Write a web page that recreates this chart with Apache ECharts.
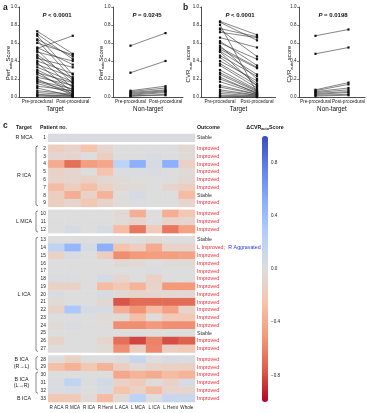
<!DOCTYPE html>
<html><head><meta charset="utf-8">
<script src="https://cdn.jsdelivr.net/npm/echarts@6/dist/echarts.min.js"></script>
<style>html,body{margin:0;padding:0;background:#fff}#c{width:367px;height:413px}</style>
</head><body><div id="c"></div>
<script>
const FONT = 'Liberation Sans, Arial, sans-serif';
const phases = ['Pre-procedural', 'Post-procedural'];

// Panel a: Perf_auto score
const perfTargetPre  = [0.73,0.70,0.68,0.64,0.63,0.60,0.55,0.54,0.52,0.50,0.47,0.45,0.43,0.40,0.38,0.36,0.33,0.30,0.28,0.27,0.25,0.22,0.20,0.18,0.17,0.15,0.12,0.10,0.07,0.05,0.03,0.02,0.01];
const perfTargetPost = [0.48,0.42,0.25,0.45,0.20,0.47,0.36,0.68,0.15,0.40,0.19,0.10,0.33,0.26,0.05,0.22,0.17,0.12,0.03,0.16,0.08,0.13,0.02,0.09,0.06,0.04,0.07,0.01,0.03,0.02,0.01,0.01,0.00];
const perfNonPre  = [0.57,0.27,0.07,0.06,0.05,0.04,0.03,0.02,0.01,0.01];
const perfNonPost = [0.71,0.40,0.12,0.10,0.08,0.07,0.06,0.05,0.03,0.02];

// Panel b: CVR_auto score
const cvrTargetPre  = [0.84,0.83,0.80,0.76,0.75,0.72,0.66,0.62,0.60,0.57,0.55,0.53,0.51,0.50,0.46,0.44,0.40,0.37,0.35,0.30,0.27,0.25,0.22,0.20,0.17,0.13,0.11,0.08,0.06,0.04,0.02,0.01,0.00];
const cvrTargetPost = [0.69,0.63,0.05,0.67,0.45,0.66,0.55,0.35,0.42,0.20,0.33,0.32,0.25,0.12,0.23,0.15,0.18,0.13,0.10,0.08,0.07,0.06,0.04,0.05,0.04,0.03,0.03,0.02,0.02,0.01,0.01,0.00,0.00];
const cvrNonPre  = [0.68,0.48,0.08,0.07,0.06,0.05,0.04,0.03,0.02,0.01];
const cvrNonPost = [0.75,0.55,0.16,0.14,0.10,0.08,0.06,0.05,0.03,0.02];

const yTicks = [0, 0.2, 0.4, 0.6, 0.8, 1.0];

// Panel c: heatmap
const regions = ['R ACA','R MCA','R ICA','R Hemi','L ACA','L MCA','L ICA','L Hemi','Whole'];
const patients = Array.from({length: 33}, (_, i) => String(i + 1));
const outcomes = ['Stable','Improved','Improved','Improved','Improved','Improved','Improved','Stable','Improved',
  'Improved','Improved','Improved',
  'Stable','L Improved; R Aggravated','Improved','Improved','Improved','Improved','Improved','Improved','Improved','Improved','Improved','Improved','Stable','Improved','Improved',
  'Improved','Improved','Improved','Improved','Improved','Improved'];
const groupNames = ['R MCA','R ICA','L MCA','L ICA','B ICA\n(R\u2192L)','B ICA\n(L\u2192R)','B ICA'];
const groupRows = [[1,1],[2,9],[10,12],[13,27],[28,29],[30,32],[33,33]];
const blockRows = [[1,1],[2,9],[10,12],[13,27],[28,33]];
const deltaCVR = [
  [0.03,0.03,0.03,0.03,0.03,0.03,0.03,0.03,0.03],
  [-0.15,-0.10,-0.25,-0.08,0,0,0,0,-0.05],
  [-0.08,-0.08,0,-0.15,0,0,0.03,0,-0.03],
  [-0.40,-0.68,-0.48,-0.42,0.22,0.50,0.05,0.50,-0.12],
  [-0.12,-0.08,0,-0.25,0.02,0.02,0.03,0,-0.03],
  [-0.10,-0.08,-0.12,-0.06,-0.03,0,0,0,-0.05],
  [-0.30,-0.15,-0.28,-0.12,-0.05,-0.03,0,-0.08,-0.15],
  [-0.15,-0.38,-0.12,-0.35,0,0.05,0,0,-0.30],
  [-0.15,-0.08,-0.22,-0.10,-0.02,0.02,0,0,-0.08],
  [0,0,0,0,-0.05,-0.38,0,-0.38,-0.22],
  [0,0,0,0,-0.03,-0.10,0,-0.10,-0.08],
  [0,0.05,0,0.05,-0.30,-0.65,-0.18,-0.65,-0.45],
  [0,0,0,0,0,0,-0.03,0,0],
  [0.20,0.45,0.05,0.50,-0.25,-0.15,-0.40,-0.10,-0.10],
  [-0.12,0.03,0,-0.15,-0.55,-0.50,-0.48,-0.48,-0.45],
  [0,0,0,0,-0.05,-0.03,0,-0.03,-0.03],
  [0,0,0,0,0,0,0.02,0,0],
  [0.03,0.02,0,0.06,-0.08,0,-0.12,0,0],
  [-0.12,-0.12,0,-0.30,-0.22,-0.35,-0.10,-0.50,-0.50],
  [0.03,0,0,0.05,-0.05,-0.10,-0.08,-0.05,-0.05],
  [-0.03,0,0,-0.05,-0.78,-0.70,-0.70,-0.70,-0.70],
  [-0.10,0.32,0.05,0.05,-0.38,-0.52,-0.30,-0.45,-0.10],
  [0,0,0,-0.03,-0.03,-0.28,-0.02,-0.20,-0.20],
  [-0.03,0.03,0,-0.02,-0.55,-0.55,-0.50,-0.55,-0.55],
  [0,0,0,0,0,0,0,0,0],
  [-0.10,0,0,-0.08,-0.68,-0.82,-0.60,-0.80,-0.75],
  [-0.02,0,0,-0.03,-0.55,-0.15,-0.58,-0.15,-0.20],
  [0,-0.12,0,0,0.03,0.14,0,0.05,0.03],
  [-0.28,-0.36,-0.22,-0.36,-0.15,-0.04,-0.10,-0.12,-0.14],
  [0,0,0,0,-0.42,-0.35,-0.40,-0.30,-0.35],
  [0.03,0.20,0.02,0.08,-0.12,-0.18,-0.02,-0.12,0.05],
  [0.03,0.05,0,0.05,-0.25,-0.12,-0.30,-0.08,-0.08],
  [-0.22,-0.20,-0.04,-0.30,-0.03,0.22,0,0.15,0.13]
];
const colorbarTicks = [0.8, 0.4, 0, -0.4, -0.8];
const coolwarm = ['#b40426','#de604d','#f49a7b','#f5c4ad','#dddddd','#b8d0f9','#8db0fe','#6282ea','#3b4cc0'];

// ---------- layout ----------
const HM_LEFT = 48.3, HM_WIDTH = 146.7, HM_TOP = 134, PITCH = 7.76, GAP = 3;
function blockTop(b) {
  let t = HM_TOP;
  for (let i = 0; i < b; i++) t += (blockRows[i][1] - blockRows[i][0] + 1) * PITCH + GAP;
  return t;
}
function rowTop(r) {
  for (let b = 0; b < blockRows.length; b++) {
    if (r >= blockRows[b][0] && r <= blockRows[b][1]) return blockTop(b) + (r - blockRows[b][0]) * PITCH;
  }
}

const grids = [], xAxes = [], yAxes = [], series = [], graphics = [];
const txt = (x, y, text, size, opts = {}) => ({
  type: 'text', x, y, silent: true,
  style: Object.assign({ text, fontSize: size, fontFamily: FONT, fill: '#1a1a1a',
    textAlign: opts.align || 'left', align: opts.align || 'left',
    textVerticalAlign: 'middle', verticalAlign: 'middle' }, opts.style || {}),
  rotation: opts.rotation || 0
});

function pairChart(left, width, pre, post, xName) {
  const gi = grids.length;
  grids.push({ left, width, top: 7, height: 90 });
  xAxes.push({
    gridIndex: gi, type: 'category', data: phases, boundaryGap: true,
    axisLine: { lineStyle: { color: '#222', width: 0.8 } }, axisTick: { show: false },
    axisLabel: { fontSize: 4.7, margin: 2.5, color: '#222', fontFamily: FONT, interval: 0 },
    name: xName, nameLocation: 'middle', nameGap: 9,
    nameTextStyle: { fontSize: 6.3, color: '#111', fontFamily: FONT }
  });
  yAxes.push({
    gridIndex: gi, type: 'value', min: 0, max: 1, interval: 0.2,
    axisLine: { show: true, lineStyle: { color: '#222', width: 0.8 } },
    axisTick: { show: true, length: 1.8, lineStyle: { color: '#222', width: 0.6 } },
    axisLabel: { fontSize: 4.5, margin: 2.5, color: '#222', fontFamily: FONT, formatter: v => v.toFixed(1) },
    splitLine: { show: false }
  });
  pre.forEach((p, i) => {
    series.push({
      type: 'line', xAxisIndex: gi, yAxisIndex: gi, data: [p, post[i]],
      symbol: 'rect', symbolSize: 2.2, showSymbol: true, silent: true, animation: false,
      lineStyle: { color: '#333', width: 0.6 }, itemStyle: { color: '#111' }
    });
  });
}

pairChart(19.5, 71, perfTargetPre, perfTargetPost, 'Target');
pairChart(113, 70, perfNonPre, perfNonPost, 'Non-target');
pairChart(201.5, 74, cvrTargetPre, cvrTargetPost, 'Target');
pairChart(299, 70, cvrNonPre, cvrNonPost, 'Non-target');

// p-values
const pRich = { i: { fontStyle: 'italic', fontWeight: 'bold', fontSize: 6, fontFamily: FONT, fill: '#111' },
                n: { fontWeight: 'bold', fontSize: 6, fontFamily: FONT, fill: '#111' } };
[[57,'< 0.0001'],[147,'= 0.0245'],[240,'< 0.0001'],[333,'= 0.0198']].forEach(([x, t]) => {
  graphics.push(txt(x, 15.5, '{i|P}{n| ' + t + '}', 6, { align: 'center', style: { rich: pRich } }));
});
// y-axis titles
const yRich = { a: { fontSize: 6, fontFamily: FONT, fill: '#111', lineHeight: 8 },
                s: { fontSize: 4, fontFamily: FONT, fill: '#111', lineHeight: 4, verticalAlign: 'bottom' } };
[[8.5,63,'{a|Perf}{s|auto}{a|Score}'],[101,63,'{a|Perf}{s|auto}{a|Score}'],
 [188.5,64,'{a|CVR}{s|auto}{a| score}'],[289.5,64,'{a|CVR}{s|auto}{a| score}']].forEach(([x, y, t]) => {
  graphics.push(txt(x, y, t, 6, { align: 'center', rotation: Math.PI / 2, style: { rich: yRich } }));
});
// panel letters
graphics.push(txt(3, 8, 'a', 8.5, { style: { fontWeight: 'bold' } }));
graphics.push(txt(183, 8, 'b', 8.5, { style: { fontWeight: 'bold' } }));
graphics.push(txt(3, 126, 'c', 8.5, { style: { fontWeight: 'bold' } }));
// headers
graphics.push(txt(16, 127.5, 'Target', 5.3, { style: { fontWeight: 'bold' } }));
graphics.push(txt(40, 127.5, 'Patient no.', 5.3, { style: { fontWeight: 'bold' } }));
graphics.push(txt(197, 127.5, 'Outcome', 5.3, { style: { fontWeight: 'bold' } }));
graphics.push(txt(265, 127.5, '{a|\u0394CVR}{s|auto}{a|Score}', 5.3, { align: 'center', style: { rich: {
  a: { fontSize: 5.3, fontWeight: 'bold', fontFamily: FONT, fill: '#111', lineHeight: 7 },
  s: { fontSize: 3.6, fontWeight: 'bold', fontFamily: FONT, fill: '#111', lineHeight: 3.6, verticalAlign: 'bottom' } } } }));

// heatmap blocks
const heatSeriesIdx = [];
const outcomeRich = {
  r: { color: '#f0242e', fontSize: 5.3, fontFamily: FONT },
  k: { color: '#333', fontSize: 5.3, fontFamily: FONT },
  b: { color: '#2a35f5', fontSize: 5.3, fontFamily: FONT }
};
blockRows.forEach(([r0, r1], b) => {
  const gi = grids.length;
  const n = r1 - r0 + 1;
  grids.push({ left: HM_LEFT, width: HM_WIDTH, top: blockTop(b), height: n * PITCH });
  const last = b === blockRows.length - 1;
  xAxes.push({
    gridIndex: gi, type: 'category', data: regions,
    axisLine: { show: false }, axisTick: { show: false },
    axisLabel: { show: last, fontSize: 4.6, margin: 3, color: '#222', fontFamily: FONT, interval: 0 }
  });
  const pts = patients.slice(r0 - 1, r1);
  const yl = yAxes.length;
  yAxes.push({
    gridIndex: gi, type: 'category', data: pts, inverse: true,
    axisLine: { show: false }, axisTick: { show: false },
    axisLabel: { fontSize: 4.8, margin: 2.5, color: '#222', fontFamily: FONT, interval: 0 }
  });
  yAxes.push({
    gridIndex: gi, type: 'category', data: pts, inverse: true, position: 'right',
    axisLine: { show: false }, axisTick: { show: false },
    axisLabel: { margin: 2, interval: 0, rich: outcomeRich,
      formatter: v => {
        const o = outcomes[Number(v) - 1];
        if (o === 'Improved') return '{r|Improved}';
        if (o === 'Stable') return '{k|Stable}';
        const parts = o.split('; ');
        return '{r|' + parts[0] + ';} {b|' + parts[1] + '}';
      } }
  });
  const data = [];
  for (let r = r0; r <= r1; r++) {
    deltaCVR[r - 1].forEach((v, c) => data.push([c, r - r0, v]));
  }
  heatSeriesIdx.push(series.length);
  series.push({ type: 'heatmap', xAxisIndex: gi, yAxisIndex: yl, data, silent: true, animation: false,
    itemStyle: { borderWidth: 0 } });
});

// group labels & brackets
groupRows.forEach(([r0, r1], g) => {
  const top = rowTop(r0), bot = rowTop(r1) + PITCH;
  const mid = (top + bot) / 2;
  const name = groupNames[g];
  if (name.indexOf('\n') >= 0) {
    graphics.push(txt(21.5, mid, name, 5.3, { align: 'center', style: { lineHeight: 6.5 } }));
  } else {
    graphics.push(txt(24, mid, name, 5.3, { align: 'center' }));
  }
  if (r1 > r0) {
    graphics.push({ type: 'polyline', silent: true,
      shape: { points: [[38, top + 1], [36, top + 2], [36, bot - 2], [38, bot - 1]] },
      style: { stroke: '#333', lineWidth: 0.6, fill: null } });
  }
});

// colorbar axis
const cbGi = grids.length;
grids.push({ left: 262, width: 6, top: 136, height: 266 });
xAxes.push({ gridIndex: cbGi, type: 'value', show: false });
yAxes.push({ gridIndex: cbGi, type: 'value', min: -1, max: 1, position: 'right',
  axisLine: { show: false }, splitLine: { show: false },
  axisTick: { show: true, customValues: colorbarTicks, length: 1.5, lineStyle: { color: '#444', width: 0.5 } },
  axisLabel: { customValues: colorbarTicks, fontSize: 4.6, margin: 3, color: '#222', fontFamily: FONT,
    formatter: v => (v < 0 ? '\u2212' : '') + Math.abs(v).toFixed(1) } });

const chart = echarts.init(document.getElementById('c'), null, { renderer: 'canvas' });
chart.setOption({
  animation: false,
  backgroundColor: '#fff',
  textStyle: { fontFamily: FONT },
  grid: grids, xAxis: xAxes, yAxis: yAxes, series,
  visualMap: {
    type: 'continuous', min: -1, max: 1, seriesIndex: heatSeriesIdx,
    inRange: { color: coolwarm }, calculable: false, text: null, show: true,
    left: 262, top: 136, itemWidth: 6, itemHeight: 266, padding: 0,
    textStyle: { fontSize: 0, color: 'rgba(0,0,0,0)' }, showLabel: false
  },
  graphic: graphics
});
</script></body></html>
